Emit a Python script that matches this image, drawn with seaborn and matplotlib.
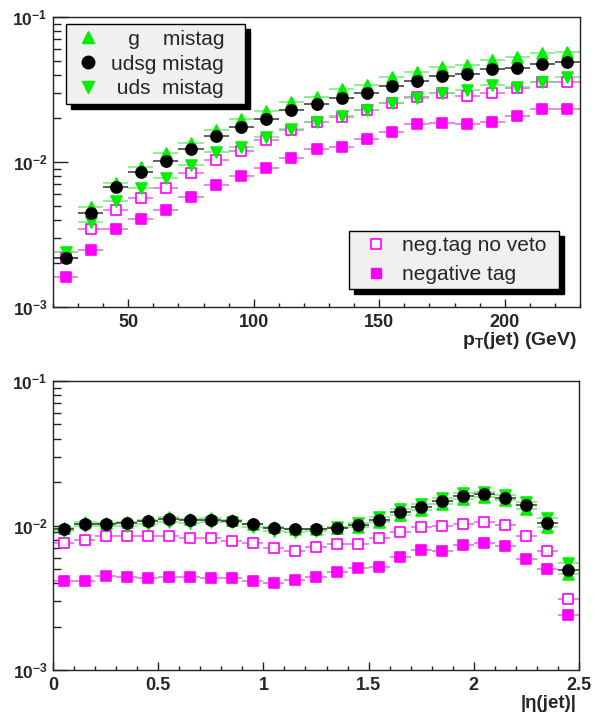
import numpy as np
import pandas as pd
import seaborn as sns
import matplotlib
matplotlib.use('Agg')
import matplotlib.pyplot as plt
from matplotlib.patches import Rectangle
from matplotlib.lines import Line2D
from matplotlib.ticker import LogLocator, NullFormatter, FuncFormatter, MultipleLocator

# --- data ---
pt = [25, 35, 45, 55, 65, 75, 85, 95, 105, 115, 125, 135, 145, 155, 165, 175, 185, 195, 205, 215, 225]
pt_g = [0.0024, 0.0049, 0.0072, 0.0092, 0.0115, 0.0135, 0.0166, 0.0198, 0.0223, 0.0261, 0.0281,
        0.0320, 0.0340, 0.0387, 0.0419, 0.0453, 0.0468, 0.0507, 0.0531, 0.0567, 0.0575]
pt_udsg = [0.00219, 0.00446, 0.00668, 0.00849, 0.0101, 0.0122, 0.0150, 0.0174, 0.0198, 0.0229, 0.0252,
           0.0277, 0.0300, 0.0335, 0.0363, 0.0393, 0.0406, 0.0439, 0.0446, 0.0476, 0.0491]
pt_uds = [0.0024, 0.00387, 0.00537, 0.00658, 0.00771, 0.00953, 0.0118, 0.0126, 0.0148, 0.0168, 0.0190,
          0.0208, 0.0229, 0.0254, 0.0276, 0.0300, 0.0315, 0.0340, 0.0330, 0.0357, 0.0387]
pt_noveto = [0.00219, 0.00346, 0.00466, 0.00567, 0.00664, 0.00835, 0.0104, 0.0120, 0.0142, 0.0165, 0.0190,
             0.0205, 0.0229, 0.0254, 0.0282, 0.0298, 0.0287, 0.0301, 0.0325, 0.0357, 0.0358]
pt_neg = [0.00161, 0.00249, 0.00343, 0.00402, 0.00466, 0.00570, 0.00694, 0.00798, 0.00914, 0.0107, 0.0123,
          0.0127, 0.0144, 0.0161, 0.0183, 0.0185, 0.0183, 0.0189, 0.0209, 0.0232, 0.0232]

eta = [0.05, 0.15, 0.25, 0.35, 0.45, 0.55, 0.65, 0.75, 0.85, 0.95, 1.05, 1.15, 1.25,
       1.35, 1.45, 1.55, 1.65, 1.75, 1.85, 1.95, 2.05, 2.15, 2.25, 2.35, 2.45]
eta_g = [0.0096, 0.0105, 0.0104, 0.0106, 0.0109, 0.0114, 0.0111, 0.0112, 0.0110, 0.0103, 0.0097, 0.0095, 0.0095,
         0.0096, 0.0098, 0.0106, 0.0119, 0.0129, 0.0141, 0.0153, 0.0157, 0.0149, 0.0131, 0.0097, 0.0046]
eta_udsg = [0.0094, 0.0102, 0.0103, 0.0104, 0.0107, 0.0111, 0.0109, 0.0110, 0.0108, 0.0102, 0.0096, 0.0094, 0.0094,
            0.0096, 0.0101, 0.0110, 0.0124, 0.0135, 0.0148, 0.0160, 0.0164, 0.0156, 0.0138, 0.0104, 0.0049]
eta_uds = [0.0091, 0.0100, 0.0099, 0.0100, 0.0102, 0.0105, 0.0104, 0.0105, 0.0105, 0.0098, 0.0092, 0.0090, 0.0091,
           0.0098, 0.0104, 0.0115, 0.0130, 0.0141, 0.0155, 0.0168, 0.0171, 0.0163, 0.0146, 0.0112, 0.0055]
eta_noveto = [0.0076, 0.0080, 0.0084, 0.0084, 0.0085, 0.0085, 0.0082, 0.0082, 0.0078, 0.0076, 0.0070, 0.0067, 0.0071,
              0.0074, 0.0075, 0.0082, 0.0090, 0.0098, 0.0099, 0.0103, 0.0106, 0.0101, 0.0084, 0.0067, 0.0031]
eta_neg = [0.0041, 0.0041, 0.0045, 0.0044, 0.0043, 0.0044, 0.0044, 0.0043, 0.0043, 0.0041, 0.0040, 0.0042, 0.0044,
           0.0048, 0.0051, 0.0052, 0.0061, 0.0068, 0.0067, 0.0073, 0.0076, 0.0072, 0.0059, 0.0050, 0.0024]

GREEN = '#00f000'
MAGENTA = '#ff00ff'

sns.set_style('ticks')
plt.rcParams['font.family'] = ['Liberation Sans', 'DejaVu Sans']
plt.rcParams['font.weight'] = 'bold'
plt.rcParams['mathtext.fontset'] = 'custom'
plt.rcParams['mathtext.rm'] = 'Liberation Sans:bold'
plt.rcParams['mathtext.bf'] = 'Liberation Sans:bold'
plt.rcParams['mathtext.it'] = 'Liberation Sans:bold'

fig = plt.figure(figsize=(5.93, 7.19), dpi=100)
ax1 = fig.add_axes([53 / 593, 1 - 307 / 719, 527 / 593, 290 / 719])
ax2 = fig.add_axes([53 / 593, 1 - 670 / 719, 526 / 593, 289 / 719])


def draw(ax, x, ys, half):
    # (values, marker, face, edge, error colour, size, zorder)
    specs = [
        (ys[3], 's', 'white', MAGENTA, '#e860e8', 50, 3.0),
        (ys[4], 's', MAGENTA, MAGENTA, '#e860e8', 50, 3.1),
        (ys[0], '^', GREEN, GREEN, '#70ee70', 62, 3.2),
        (ys[2], 'v', GREEN, GREEN, '#70ee70', 62, 3.3),
        (ys[1], 'o', 'black', 'black', '#333333', 64, 3.4),
    ]
    for y, mk, fc, ec, errc, s, z in specs:
        ax.errorbar(x, y, xerr=half, fmt='none', ecolor=errc, elinewidth=1.1, zorder=2)
        df = pd.DataFrame({'x': x, 'y': y})
        sns.scatterplot(data=df, x='x', y='y', ax=ax, marker=mk, s=s, color=fc,
                        edgecolor=ec, linewidth=1.2, zorder=z, legend=False)
    ax.set_xlabel('')
    ax.set_ylabel('')
    ax.set_yscale('log')
    ax.set_ylim(1e-3, 1e-1)
    ax.yaxis.set_major_locator(LogLocator(base=10))
    ax.yaxis.set_minor_locator(LogLocator(base=10, subs=np.arange(2, 10)))
    ax.yaxis.set_minor_formatter(NullFormatter())
    ax.yaxis.set_major_formatter(FuncFormatter(lambda v, p: r'$\mathbf{10^{%d}}$' % round(np.log10(v))))
    ax.tick_params(axis='both', which='both', direction='in', top=False, right=False, color='#222222')
    ax.tick_params(axis='y', which='major', length=11, width=1, pad=4, labelsize=12.5)
    ax.tick_params(axis='y', which='minor', length=6, width=1)
    ax.tick_params(axis='x', which='major', length=6, width=1, pad=5, labelsize=13)
    ax.tick_params(axis='x', which='minor', length=3, width=1)
    for sp in ax.spines.values():
        sp.set_linewidth(1.0)
        sp.set_color('#222222')


draw(ax1, pt, [pt_g, pt_udsg, pt_uds, pt_noveto, pt_neg], 5)
ax1.set_xlim(20, 230)
ax1.xaxis.set_major_locator(MultipleLocator(50))
ax1.xaxis.set_minor_locator(MultipleLocator(10))

draw(ax2, eta, [eta_g, eta_udsg, eta_uds, eta_noveto, eta_neg], 0.05)
ax2.set_xlim(0, 2.5)
ax2.xaxis.set_major_locator(MultipleLocator(0.5))
ax2.xaxis.set_minor_locator(MultipleLocator(0.1))
ax2.xaxis.set_major_formatter(FuncFormatter(lambda v, p: '%g' % v))

ax1.text(0.995, -0.08, r'$\mathbf{p_T}$(jet) (GeV)', transform=ax1.transAxes,
         ha='right', va='top', fontsize=14, fontweight='bold')
ax2.text(0.995, -0.088, '|η(jet)|', transform=ax2.transAxes,
         ha='right', va='top', fontsize=13.5, fontweight='bold')


def boxed_legend(ax, x0, y0, x1, y1, handles, labels, hl, htp, ls):
    w, h = x1 - x0, y1 - y0
    dx, dy = 5 / 527, 5 / 290
    ax.add_patch(Rectangle((x0 + dx, y0 - dy), w, h, transform=ax.transAxes,
                           facecolor='black', edgecolor='black', zorder=4))
    ax.add_patch(Rectangle((x0, y0), w, h, transform=ax.transAxes,
                           facecolor='#f0f0f0', edgecolor='black', linewidth=1, zorder=4.1))
    leg = ax.legend(handles, labels, loc='center left', bbox_to_anchor=(x0, y0, w, h),
                    bbox_transform=ax.transAxes, frameon=False, borderaxespad=0,
                    borderpad=0.4, handlelength=hl, handletextpad=htp, labelspacing=ls,
                    prop={'size': 15, 'weight': 'normal'})
    leg.set_zorder(5)
    return leg


h_g = Line2D([], [], ls='none', marker='^', ms=9, color=GREEN)
h_udsg = Line2D([], [], ls='none', marker='o', ms=9, color='black')
h_uds = Line2D([], [], ls='none', marker='v', ms=9, color=GREEN)
h_nov = Line2D([], [], ls='none', marker='s', ms=7, markerfacecolor='white',
               markeredgecolor=MAGENTA, markeredgewidth=1.2)
h_neg = Line2D([], [], ls='none', marker='s', ms=7, color=MAGENTA)

leg1 = boxed_legend(ax1, (66 - 53) / 527, 1 - (104 - 17) / 290, (245 - 53) / 527, 1 - (24 - 17) / 290,
                    [h_g, h_udsg, h_uds], ['   g    mistag', 'udsg mistag', ' uds  mistag'],
                    1.32, 0.45, 0.28)
ax1.add_artist(leg1)
boxed_legend(ax1, (349 - 53) / 527, 1 - (289 - 17) / 290, (559 - 53) / 527, 1 - (231 - 17) / 290,
             [h_nov, h_neg], ['neg.tag no veto', 'negative tag'], 1.8, 0.35, 0.47)

fig.savefig('out.png', dpi=100)
